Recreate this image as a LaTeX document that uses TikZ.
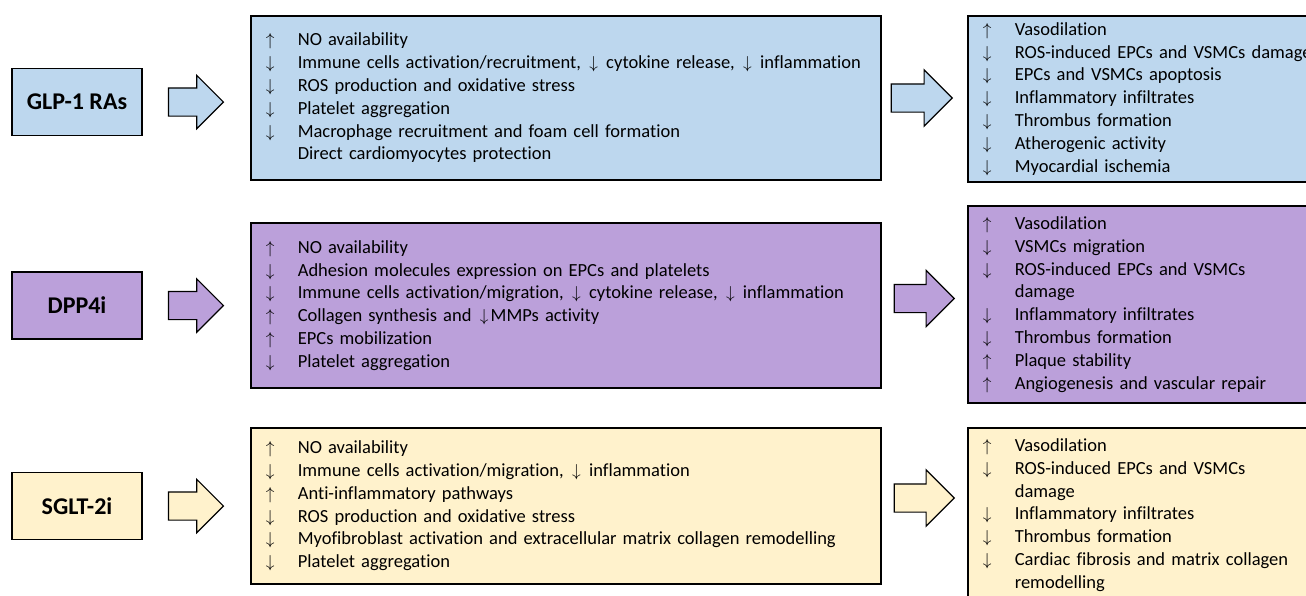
\documentclass[tikz,border=0pt]{standalone}
\usepackage{fontspec}
\setmainfont{Carlito}[Ligatures=NoCommon]
\usetikzlibrary{shapes.arrows, positioning, calc}

\definecolor{glpblue}{HTML}{BDD7EE}
\definecolor{dpppurple}{HTML}{BBA0DA}
\definecolor{sgltyellow}{HTML}{FFF2CC}

\newcommand{\upa}{\makebox[32pt][l]{$\uparrow$}}
\newcommand{\dna}{\makebox[32pt][l]{$\downarrow$}}
\newcommand{\noa}{\hspace*{32pt}}
\newcommand{\dnin}{\makebox[13pt]{$\downarrow$}}

\tikzset{
  drug/.style={draw, line width=1.6pt, minimum width=130pt, minimum height=67pt,
    font=\fontsize{24}{28}\selectfont\bfseries},
  mech/.style={draw, line width=1.6pt, anchor=west, inner xsep=15pt, inner ysep=0pt,
    text width=600pt, align=left, font=\fontsize{18.5}{22.8}\selectfont},
  outc/.style={mech, text width=360pt},
  bigarrow/.style={single arrow, draw, line width=1.2pt, anchor=tail,
    inner xsep=0pt, inner ysep=13.5pt, single arrow head extend=12.5pt,
    minimum height=55pt}
}

\begin{document}
\begin{tikzpicture}[x=1pt, y=-1pt]
\useasboundingbox (0,0) rectangle (1306,595);
\clip (0,0) rectangle (1306,595);

% GLP-1 RAs
\node[drug, fill=glpblue] (glp) at (77,102) {GLP-1 RAs};
\node[mech, fill=glpblue, minimum height=164pt] (glpmech) at (250,98) {%
  \upa NO availability\\
  \dna Immune cells activation/recruitment, \dnin{} cytokine release, \dnin{} inflammation\\
  \dna ROS production and oxidative stress\\
  \dna Platelet aggregation\\
  \dna Macrophage recruitment and foam cell formation\\
  \noa Direct cardiomyocytes protection};
\node[outc, fill=glpblue, minimum height=166pt] (glpout) at (967,99) {%
  \upa Vasodilation\\
  \dna ROS-induced EPCs and VSMCs damage\\
  \dna EPCs and VSMCs apoptosis\\
  \dna Inflammatory infiltrates\\
  \dna Thrombus formation\\
  \dna Atherogenic activity\\
  \dna Myocardial ischemia};
\node[bigarrow, fill=glpblue] (glparr) at ([xshift=25pt]glp.east) {};
\node[bigarrow, fill=glpblue, minimum height=61pt, single arrow head extend=14pt]
  (glpmecharr) at ($(glpmech.east)+(9,0)$) {};

% DPP4i
\node[drug, fill=dpppurple] (dpp) at (77,305.5) {DPP4i};
\node[mech, fill=dpppurple, minimum height=165pt] (dppmech) at (250,305.5) {%
  \upa NO availability\\
  \dna Adhesion molecules expression on EPCs and platelets\\
  \dna Immune cells activation/migration, \dnin{} cytokine release, \dnin{} inflammation\\
  \upa Collagen synthesis and \dnin MMPs activity\\
  \upa EPCs mobilization\\
  \dna Platelet aggregation};
\node[outc, fill=dpppurple, minimum height=197pt] (dppout) at (967,304.5) {%
  \upa Vasodilation\\
  \dna VSMCs migration\\
  \dna ROS-induced EPCs and VSMCs\\
  \noa damage\\
  \dna Inflammatory infiltrates\\
  \dna Thrombus formation\\
  \upa Plaque stability\\
  \upa Angiogenesis and vascular repair};
\node[bigarrow, fill=dpppurple] (dpparr) at ([xshift=25pt]dpp.east) {};
\node[bigarrow, fill=dpppurple, minimum height=60pt, single arrow head extend=14pt]
  (dppmecharr) at ($(dppmech.east)+(12,-7)$) {};

% SGLT-2i
\node[drug, fill=sgltyellow] (sglt) at (77,506) {SGLT-2i};
\node[mech, fill=sgltyellow, minimum height=156pt] (sgltmech) at (250,506) {%
  \upa NO availability\\
  \dna Immune cells activation/migration, \dnin{} inflammation\\
  \upa Anti-inflammatory pathways\\
  \dna ROS production and oxidative stress\\
  \dna Myofibroblast activation and extracellular matrix collagen remodelling\\
  \dna Platelet aggregation};
\node[outc, fill=sgltyellow, minimum height=174pt] (sgltout) at (967,515) {%
  \upa Vasodilation\\
  \dna ROS-induced EPCs and VSMCs\\
  \noa damage\\
  \dna Inflammatory infiltrates\\
  \dna Thrombus formation\\
  \dna Cardiac fibrosis and matrix collagen\\
  \noa remodelling};
\node[bigarrow, fill=sgltyellow] (sgltarr) at ([xshift=25pt]sglt.east) {};
\node[bigarrow, fill=sgltyellow, minimum height=60pt, single arrow head extend=14pt]
  (sgltmecharr) at ($(sgltmech.east)+(12,-8)$) {};
\end{tikzpicture}
\end{document}
